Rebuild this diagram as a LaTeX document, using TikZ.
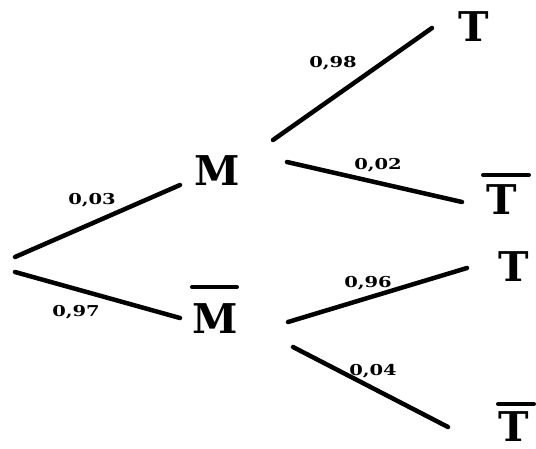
\documentclass[tikz,border=0pt]{standalone}
\usepackage{fontspec}
\newfontfamily\treefont{DejaVu Serif}
\tikzset{
  branch/.style={line width=4.5pt, line cap=round, black},
  barline/.style={line width=4pt, line cap=round, black},
  letter/.style={inner sep=0pt, text height=30pt, text depth=0pt, font=\treefont\bfseries\fontsize{41}{41}\selectfont},
  prob/.style={inner sep=0pt, font=\treefont\bfseries\fontsize{15}{15}\selectfont}
}
\newcommand\wideprob[1]{\scalebox{1.3}[1]{#1}}
\begin{document}
\begin{tikzpicture}[x=1pt,y=-1pt]
\useasboundingbox (0,0) rectangle (536,448);
\fill[white] (0,0) rectangle (536,448);
\coordinate (root) at (0,265);
\node[letter] (M)   at (217,170) {M};
\node[letter] (Mb)  at (215,318) {M};
\node[letter] (T1)  at (474,26)  {T};
\node[letter] (Tb1) at (502,199) {T};
\node[letter] (T2)  at (514,266) {T};
\node[letter] (Tb2) at (514,426) {T};
% bars
\draw[barline] ([shift={(-17,-22)}]Mb.center) ++(-6,-9) -- ++(45,0);
\draw[barline] ([shift={(-19,-24)}]Tb1.center) -- ([shift={(27,-24)}]Tb1.center);
\draw[barline] ([shift={(-16,-22)}]Tb2.center) -- ([shift={(20,-22)}]Tb2.center);
% branches
\draw[branch] ([shift={(15,-8)}]root) -- ([shift={(-37,15)}]M.center);
\draw[branch] ([shift={(15,7)}]root) -- ([shift={(-35,0)}]Mb.center);
\draw[branch] ([shift={(56,-30)}]M.center) -- ([shift={(-42,2)}]T1.center);
\draw[branch] ([shift={(70,-8)}]M.center) -- ([shift={(-40,3)}]Tb1.center);
\draw[branch] ([shift={(73,4)}]Mb.center) -- ([shift={(-47,2)}]T2.center);
\draw[branch] ([shift={(78,29)}]Mb.center) -- ([shift={(-66,1)}]Tb2.center);
% probabilities
\node[prob] (p1) at (92,200)  {\wideprob{0,03}};
\node[prob] (p2) at (76,312)  {\wideprob{0,97}};
\node[prob] (p3) at (333,63)  {\wideprob{0,98}};
\node[prob] (p4) at (378,165) {\wideprob{0,02}};
\node[prob] (p5) at (368,283) {\wideprob{0,96}};
\node[prob] (p6) at (373,371) {\wideprob{0,04}};
\end{tikzpicture}
\end{document}
